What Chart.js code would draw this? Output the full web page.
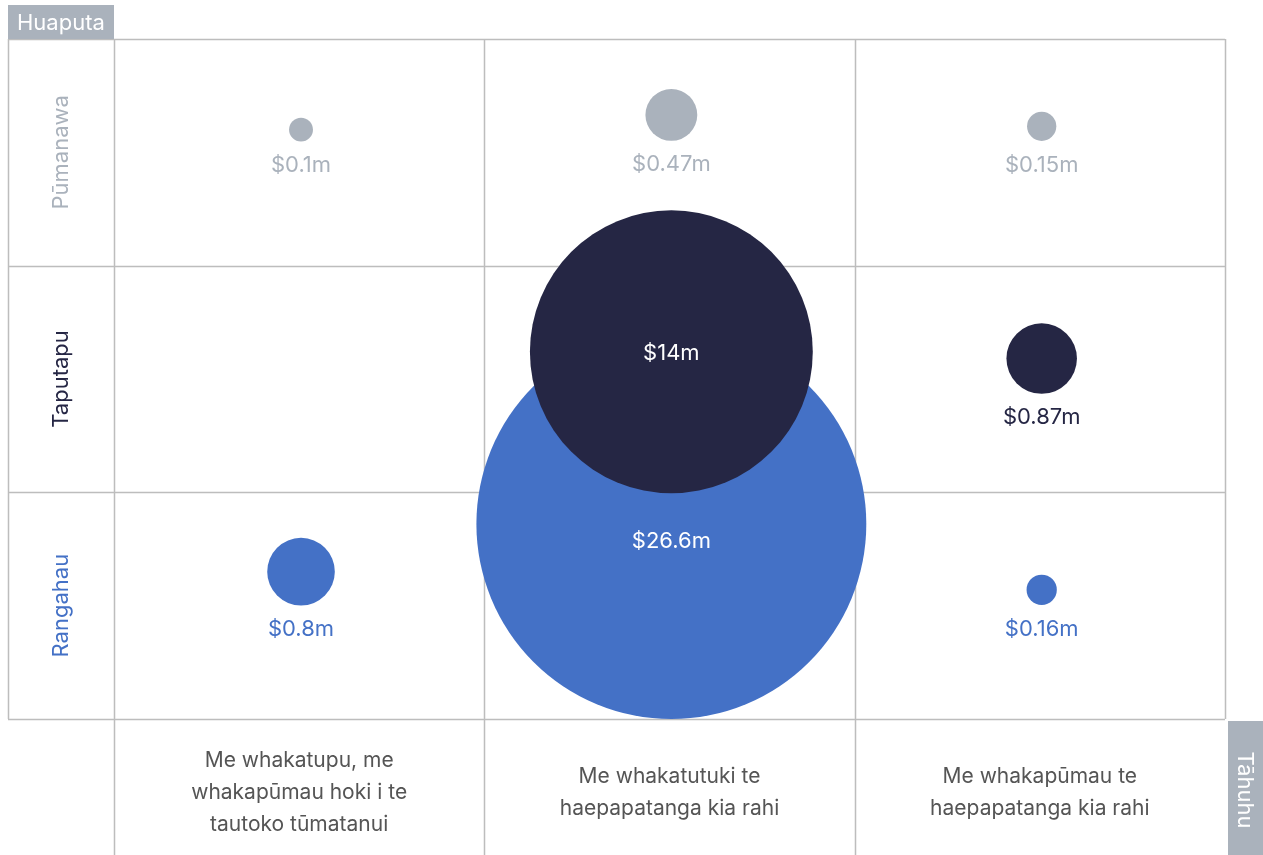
<!DOCTYPE html>
<html>
<head>
<meta charset="utf-8">
<title>Huaputa / Tāhuhu</title>
<script src="https://cdn.jsdelivr.net/npm/chart.js@4"></script>
<style>
  html, body { margin: 0; padding: 0; background: #fff; }
  canvas { display: block; }
</style>
</head>
<body>
<canvas id="chart" width="1263" height="855"></canvas>
<script>
// column headings (bottom) and row headings (left, bottom row first)
const columns = [
  ['Me whakatupu, me', 'whakapūmau hoki i te', 'tautoko tūmatanui'],
  ['Me whakatutuki te', 'haepapatanga kia rahi'],
  ['Me whakapūmau te', 'haepapatanga kia rahi'],
];
const rows = ['Rangahau', 'Taputapu', 'Pūmanawa'];

// funding per cell, $m
const rangahau = [0.8, 26.6, 0.16];
const taputapu = [null, 14, 0.87];
const pumanawa = [0.1, 0.47, 0.15];

// where each bubble sits inside its cell (0 = bottom of cell, 1 = top)
const rangahauLift = [0.65, 0.86, 0.57];
const taputapuLift = [null, 0.62, 0.59];
const pumanawaLift = [0.6, 0.665, 0.615];

const GREY = '#aab2bc';
const NAVY = '#252644';
const BLUE = '#4471c6';
const LINE = '#bdbdbd';
const FONT = 'Inter, "Liberation Sans", sans-serif';

// bubble area scales with the amount
const radiusFor = (v) => 37.8 * Math.sqrt(v);

function toPoints(values, lift, row) {
  return values
    .map((v, i) => (v == null ? null : { x: i + 0.505, y: row + lift[i], r: radiusFor(v), v }))
    .filter(Boolean);
}

const gridPlugin = {
  id: 'grid',
  beforeDatasetsDraw(chart) {
    const { ctx, chartArea, scales } = chart;
    const x = scales.x, y = scales.y;
    const left = 8;
    const H = chart.height;
    ctx.save();
    ctx.strokeStyle = LINE;
    ctx.lineWidth = 1.5;
    ctx.beginPath();
    [0, 1, 2, 3].forEach((v) => {
      const py = Math.round(y.getPixelForValue(v)) + 0.5;
      ctx.moveTo(left, py);
      ctx.lineTo(chartArea.right, py);
    });
    ctx.moveTo(left + 0.5, chartArea.top);
    ctx.lineTo(left + 0.5, chartArea.bottom);
    [0, 1, 2].forEach((v) => {
      const px = Math.round(x.getPixelForValue(v)) + 0.5;
      ctx.moveTo(px, chartArea.top);
      ctx.lineTo(px, H);
    });
    const rx = Math.round(x.getPixelForValue(3)) + 0.5;
    ctx.moveTo(rx, chartArea.top);
    ctx.lineTo(rx, chartArea.bottom);
    ctx.stroke();

    // axis tags
    ctx.fillStyle = GREY;
    ctx.fillRect(left, 5, x.getPixelForValue(0) - left, chartArea.top - 5);
    ctx.fillRect(chartArea.right + 3, chartArea.bottom + 2, chart.width - chartArea.right - 3, H - chartArea.bottom - 2);
    ctx.fillStyle = '#fff';
    ctx.font = '22px ' + FONT;
    ctx.textBaseline = 'middle';
    ctx.textAlign = 'left';
    ctx.fillText('Huaputa', left + 9, 23);
    ctx.save();
    ctx.translate(chart.width - 18, 790);
    ctx.rotate(Math.PI / 2);
    ctx.textAlign = 'center';
    ctx.fillText('Tāhuhu', 0, 0);
    ctx.restore();

    // row headings
    const rowColors = [BLUE, NAVY, GREY];
    rows.forEach((name, i) => {
      ctx.save();
      ctx.translate((left + x.getPixelForValue(0)) / 2, y.getPixelForValue(i + 0.5));
      ctx.rotate(-Math.PI / 2);
      ctx.textAlign = 'center';
      ctx.fillStyle = rowColors[i];
      ctx.fillText(name, 0, 0);
      ctx.restore();
    });

    // column headings
    ctx.font = '21px ' + FONT;
    ctx.fillStyle = '#555555';
    ctx.textAlign = 'center';
    columns.forEach((lines, i) => {
      const cx = x.getPixelForValue(i + 0.5);
      const mid = chartArea.bottom + 74;
      lines.forEach((t, j) => {
        ctx.fillText(t, cx, mid + (j - (lines.length - 1) / 2) * 32);
      });
    });
    ctx.restore();
  },
  afterDatasetsDraw(chart) {
    const { ctx } = chart;
    ctx.save();
    ctx.font = '22px ' + FONT;
    ctx.textAlign = 'center';
    ctx.textBaseline = 'middle';
    chart.data.datasets.forEach((ds, di) => {
      const meta = chart.getDatasetMeta(di);
      meta.data.forEach((el, i) => {
        const p = ds.data[i];
        const label = '$' + p.v + 'm';
        if (p.r > 100) {
          ctx.fillStyle = '#ffffff';
          ctx.fillText(label, el.x, el.y + (ds.label === 'Rangahau' ? 17 : 2));
        } else {
          ctx.fillStyle = ds.backgroundColor;
          ctx.fillText(label, el.x, el.y + p.r + 24);
        }
      });
    });
    ctx.restore();
  },
};

new Chart(document.getElementById('chart'), {
  type: 'bubble',
  data: {
    datasets: [
      { label: 'Pūmanawa', data: toPoints(pumanawa, pumanawaLift, 2), backgroundColor: GREY, clip: false },
      { label: 'Taputapu', data: toPoints(taputapu, taputapuLift, 1), backgroundColor: NAVY, clip: false },
      { label: 'Rangahau', data: toPoints(rangahau, rangahauLift, 0), backgroundColor: BLUE, clip: false },
    ],
  },
  options: {
    responsive: false,
    animation: false,
    devicePixelRatio: 1,
    layout: { autoPadding: false, padding: { left: 114, top: 39, right: 38, bottom: 136 } },
    elements: { point: { borderWidth: 0, hoverBorderWidth: 0 } },
    scales: {
      x: { type: 'linear', min: 0, max: 3, display: false },
      y: { type: 'linear', min: 0, max: 3, display: false },
    },
    plugins: {
      legend: { display: false },
      tooltip: { enabled: false },
    },
  },
  plugins: [gridPlugin],
});
</script>
</body>
</html>
